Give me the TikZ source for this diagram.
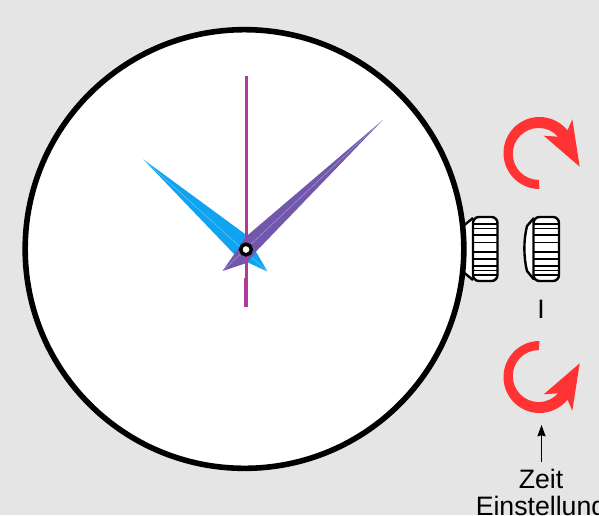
\documentclass[tikz,border=0pt]{standalone}
\usepackage{fontspec}
\setmainfont{Liberation Sans}
\usetikzlibrary{arrows.meta}
\definecolor{bgc}{HTML}{E5E5E5}
\definecolor{redc}{HTML}{FF3333}
\definecolor{bluec}{HTML}{0FA3F0}
\definecolor{purplec}{HTML}{7158AC}
\definecolor{magc}{HTML}{B23A9C}
\tikzset{
  crownline/.style={line width=1.8pt,black,line join=round},
  ribline/.style={line width=1.1pt,black},
  lbl/.style={font=\fontsize{20pt}{22pt}\selectfont,inner sep=0pt,text=black},
  redarrow/.style={fill=redc,draw=none},
}
\begin{document}
\begin{tikzpicture}[x=0.75pt,y=-0.75pt]
\useasboundingbox (0,0) rectangle (599,515);
\clip (0,0) rectangle (599,515);
\fill[bgc] (0,0) rectangle (599,515);
% left crown
\draw[crownline,fill=white] (473,218) -- (462,227) -- (462,271) -- (473,280);
\draw[crownline,fill=white,rounded corners=4.5pt] (473,217) rectangle (497.5,281);
\foreach \y in {224,228.5,235,242.5,252,259,266,270.7,275}
  \draw[ribline] (473,\y) -- (497,\y);
% right crown
\draw[crownline,fill=white] (534,218) -- (527,226) .. controls (523.5,240) and (523.5,257) .. (527,271) -- (534,279.5);
\draw[crownline,fill=white,rounded corners=4.5pt] (533.5,217) rectangle (559,281);
\foreach \y in {224,228.5,235,242.5,252,259,266,270.7,275}
  \draw[ribline] (533.5,\y) -- (558.5,\y);
% dial
\node[circle,draw=black,fill=white,line width=4.2pt,minimum size=329pt,inner sep=0pt] (dial) at (244.5,249) {};
% hands
\fill[bluec] (143.3,159.3) -- (245,234) -- (256.7,253) -- (267.5,271.5) -- (246.7,262) -- (235,255) -- cycle;
\draw[white,opacity=.4,line width=.35pt] (143.3,159.3) -- (267.5,271.5);
\fill[purplec] (383.3,119.5) -- (246.7,236) -- (235,253) -- (222.5,271) -- (246.7,263) -- (257,250.5) -- cycle;
\draw[white,opacity=.4,line width=.35pt] (383.3,119.5) -- (222.5,271);
\draw[magc,line width=2.2pt] (246.2,76) -- (246.2,279);
\fill[magc] (244.2,278) rectangle (248.2,307);
\node[circle,draw=black,fill=white,line width=2.6pt,minimum size=8pt,inner sep=0pt] (hub) at (246,249.5) {};
% red arrows
\fill[redarrow] (539.5,189) arc[start angle=90,end angle=321,radius=36]
  -- (572.3,119.3) -- (579.7,166.7) -- (543.7,135.7) -- (558,136.7)
  arc[start angle=319,end angle=270,radius=25.5] arc[start angle=270,end angle=90,radius=26] -- cycle;
\fill[redarrow] (539.5,341) arc[start angle=270,end angle=39,radius=36]
  -- (572.3,410.7) -- (579.7,363.3) -- (543.7,394.3) -- (558,393.3)
  arc[start angle=41,end angle=90,radius=25.5] arc[start angle=90,end angle=270,radius=26] -- cycle;
% labels
\node[lbl] (one) at (541,309) {I};
\node[lbl] (zeit) at (541,479) {Zeit};
\node[lbl] (einst) at (541,509) {Einstellung};
\coordinate (up) at (541.5,425);
\coordinate (zt) at (541.5,462);
\draw[-{Stealth[length=8.5pt,width=6.2pt,inset=0.8pt]},line width=.8pt,black] (zt) -- (up);
\end{tikzpicture}
\end{document}
